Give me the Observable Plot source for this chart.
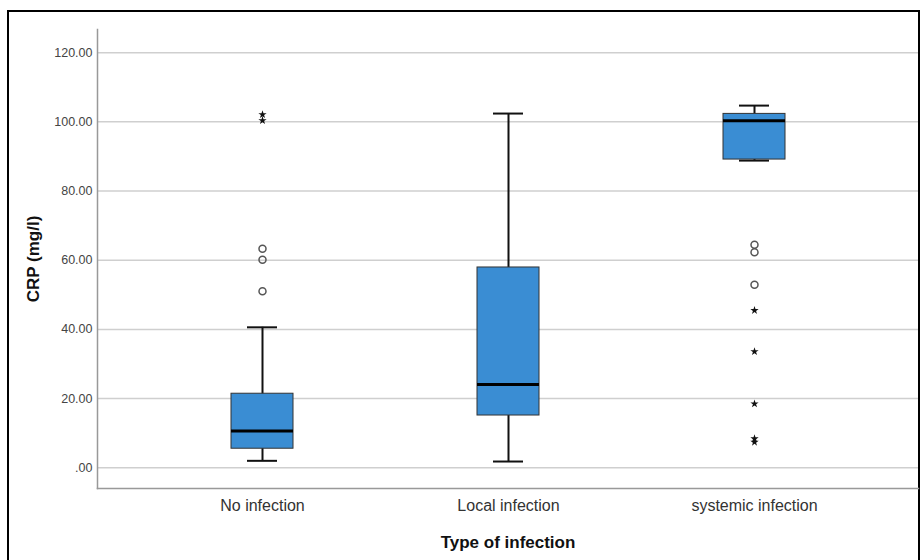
<!DOCTYPE html>
<html>
<head>
<meta charset="utf-8">
<script src="https://cdn.jsdelivr.net/npm/d3@7"></script>
<script src="https://cdn.jsdelivr.net/npm/@observablehq/plot@0.6"></script>
<style>
  html, body { margin: 0; padding: 0; background: #fff; overflow: hidden; }
  #wrap { position: relative; width: 924px; height: 560px; }
  #border { position: absolute; left: 7px; top: 10px; width: 913px; height: 600px; border: 2px solid #000; box-sizing: border-box; }
  #chart { position: absolute; left: 0; top: 0; }
</style>
</head>
<body>
<div id="wrap"><div id="border"></div><div id="chart"></div></div>
<script>
const categories = ["No infection", "Local infection", "systemic infection"];
const whiskerLow = [2.0, 1.8, 88.8];
const q1 = [5.5, 15.1, 89.1];
const median = [10.6, 24.1, 100.3];
const q3 = [21.4, 57.9, 102.3];
const whiskerHigh = [40.6, 102.4, 104.7];

const outlierCategory = ["No infection", "No infection", "No infection", "systemic infection", "systemic infection", "systemic infection"];
const outlierValue = [63.3, 60.1, 51.0, 64.5, 62.3, 52.9];

const extremeCategory = ["No infection", "No infection", "systemic infection", "systemic infection", "systemic infection", "systemic infection", "systemic infection"];
const extremeValue = [102.1, 100.4, 45.5, 33.6, 18.5, 8.4, 7.4];

const yTicks = [0, 20, 40, 60, 80, 100, 120];

const boxes = categories.map((c, i) => ({cat: c, lo: whiskerLow[i], q1: q1[i], med: median[i], q3: q3[i], hi: whiskerHigh[i]}));
const outliers = outlierCategory.map((c, i) => ({cat: c, v: outlierValue[i]}));
const extremes = extremeCategory.map((c, i) => ({cat: c, v: extremeValue[i]}));

const font = "'Liberation Sans', Arial, sans-serif";

const chart = Plot.plot({
  width: 924,
  height: 560,
  marginLeft: 97,
  marginRight: 6,
  marginTop: 29,
  marginBottom: 72,
  style: {fontFamily: font, background: "transparent"},
  x: {domain: categories, type: "band", paddingInner: 0.75, paddingOuter: 0.54, axis: null},
  y: {domain: [-6.0, 126.7], axis: null},
  marks: [
    Plot.gridY(yTicks, {stroke: "#cfcfcf", strokeOpacity: 1, strokeWidth: 1.5}),
    Plot.frame({anchor: "left", stroke: "#999", strokeWidth: 1.5}),
    Plot.frame({anchor: "bottom", stroke: "#999", strokeWidth: 1.5}),
    Plot.ruleX(boxes, {x: "cat", y1: "lo", y2: "hi", stroke: "#111", strokeWidth: 2}),
    Plot.tickY(boxes, {x: "cat", y: "lo", stroke: "#111", strokeWidth: 2, insetLeft: 16, insetRight: 16}),
    Plot.tickY(boxes, {x: "cat", y: "hi", stroke: "#111", strokeWidth: 2, insetLeft: 16, insetRight: 16}),
    Plot.barY(boxes, {x: "cat", y1: "q1", y2: "q3", fill: "#3a8dd3", stroke: "#333", strokeWidth: 1}),
    Plot.tickY(boxes, {x: "cat", y: "med", stroke: "#000", strokeWidth: 3}),
    Plot.dot(outliers, {x: "cat", y: "v", r: 3.5, stroke: "#555", strokeWidth: 1.5, fill: "none"}),
    Plot.dot(extremes, {x: "cat", y: "v", symbol: "star", r: 2.6, fill: "#111", stroke: "none"}),
    Plot.axisY(yTicks, {tickSize: 0, tickPadding: 5, fontSize: 12.5, fill: "#444", label: null,
      tickFormat: d => d === 0 ? ".00" : d.toFixed(2)}),
    Plot.axisX({tickSize: 0, tickPadding: 11, fontSize: 16, fill: "#333", label: null}),
    Plot.text(["Type of infection"], {frameAnchor: "bottom", dy: 54, text: d => d, fontSize: 17, fontWeight: "bold", fill: "#111", lineAnchor: "middle"}),
    Plot.text(["CRP (mg/l)"], {frameAnchor: "left", dx: -64, rotate: -90, text: d => d, textAnchor: "middle", fontSize: 17, fontWeight: "bold", fill: "#111", lineAnchor: "middle"})
  ]
});
document.getElementById("chart").appendChild(chart);
</script>
</body>
</html>
